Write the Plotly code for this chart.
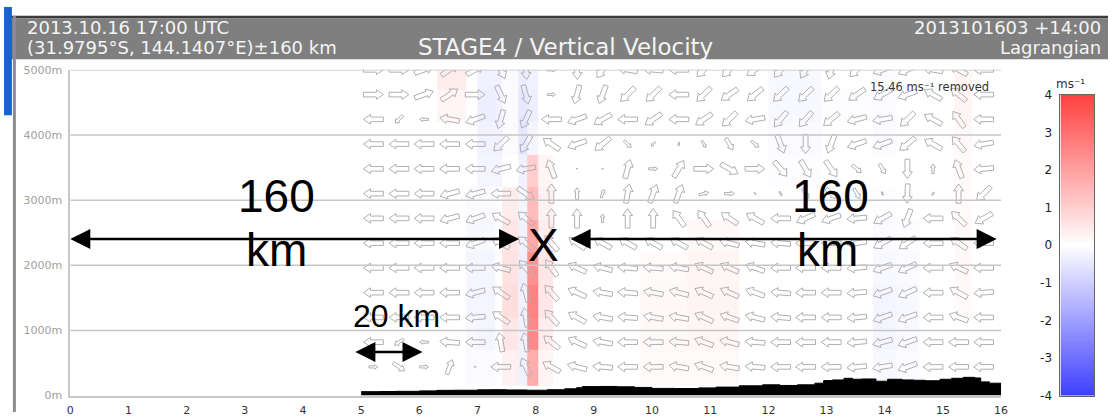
import numpy as np
import plotly.graph_objects as go

W, H = 1115, 419
PX_L, PX_R, PX_T, PX_B = 67, 1007, 65, 402
X_RANGE = [0, 16]
Y_RANGE = [0, 5000]

x_ticks = list(range(0, 17))
y_ticks = [0, 1000, 2000, 3000, 4000, 5000]
y_tick_text = [f"{v}m" for v in y_ticks]

# ---- vertical velocity (m/s) as bricks ----
w_x_edges = [5.0, 6.3, 6.8, 7.0, 7.3, 7.42, 7.7, 7.85, 8.05, 8.3, 9.8, 10.6,
             11.5, 12.0, 12.9, 13.8, 14.2, 14.6, 15.2, 15.5, 16.0]
w_y_edges = [150, 700, 1200, 1700, 2200, 2700, 3200, 3700, 4200, 4700, 5000]
w_values = [
    [0, 0, -0.1, -0.1, 0, 0.3, -0.3, 1.7, 0.2, 0, 0.1, 0.1, 0, 0, 0, -0.15, -0.1, 0, 0, 0],
    [0, 0, -0.15, -0.2, 0, 0.5, -0.3, 2.5, 0.4, 0, 0.15, 0.2, 0, 0, 0, -0.2, -0.15, 0, 0, 0],
    [0, 0, -0.2, -0.2, 0, 0.7, -0.3, 2.6, 0.5, 0, 0.15, 0.25, 0, 0, 0, -0.2, -0.15, 0, 0.1, 0],
    [0, 0, -0.2, -0.2, 0, 0.6, -0.35, 2.3, 0.5, 0, 0.1, 0.2, 0, 0, 0, -0.15, -0.1, 0, 0.15, 0],
    [0, 0, -0.15, -0.15, 0, 0.5, -0.3, 1.8, 0.4, 0, 0, 0.15, 0, 0, 0, -0.1, -0.05, 0, 0.15, 0],
    [0, 0, -0.1, -0.1, 0, 0.4, -0.2, 1.4, 0.3, 0, 0, 0, 0, 0, 0, -0.05, 0, 0, 0.1, 0],
    [0, 0, 0, -0.2, -0.2, 0, -0.3, 1.0, 0.2, 0, 0, 0, 0, -0.05, 0, 0, 0, 0, 0.1, 0],
    [0, 0, 0, -0.3, -0.3, -0.1, -0.5, -0.2, 0, 0, 0, 0, 0, -0.1, 0, -0.1, 0, 0, 0.15, 0],
    [0, 0.2, 0, -0.35, -0.3, -0.1, -0.5, -0.35, 0, 0, 0, 0, 0, -0.15, -0.05, -0.1, 0, 0, 0.2, 0],
    [0, 0.4, 0, -0.3, -0.3, -0.1, -0.4, -0.3, 0, 0, 0, 0, 0, -0.15, 0, -0.1, 0, 0, 0.2, 0],
]

# ---- wind vectors: grid, direction (deg, 0=E, 90=up) and relative magnitude ----
arrow_x = [5.21, 5.65, 6.08, 6.52, 6.96, 7.40, 7.83, 8.27, 8.71, 9.15, 9.58, 10.02,
           10.46, 10.89, 11.33, 11.77, 12.21, 12.64, 13.08, 13.52, 13.96, 14.39,
           14.83, 15.27, 15.70]
arrow_y = [5000, 4620, 4240, 3860, 3480, 3100, 2720, 2340, 1960, 1580, 1200, 820, 440]
arrow_dir = [
    [0, 0, 20, 35, 30, 295, 275, 0, 272, 235, 170, 175, 180, 225, 225, 215, 230, 240, 255, 225, 200, 205, 170, 150, 180],
    [0, 0, 20, 35, 0, 295, 285, 0, 255, 250, 225, 225, 180, 225, 215, 220, 225, 225, 225, 215, 210, 200, 150, 140, 180],
    [180, 225, 180, 170, 200, 255, 245, 180, 200, 210, 180, 215, 180, 215, 225, 190, 230, 230, 220, 195, 190, 225, 150, 125, 180],
    [180, 180, 180, 180, 180, 225, 240, 145, 200, 220, 315, 225, 270, 300, 300, 320, 290, 270, 250, 200, 200, 220, 150, 130, 190],
    [180, 180, 180, 180, 180, 195, 190, 110, 0, 0, 75, 0, 60, 0, 330, 0, 310, 300, 305, 320, 300, 270, 90, 110, 185],
    [180, 180, 180, 195, 195, 180, 325, 90, 90, 70, 80, 70, 70, 15, 0, 300, 300, 300, 315, 300, 290, 268, 60, 90, 225],
    [180, 180, 180, 195, 200, 150, 140, 90, 90, 90, 90, 90, 125, 125, 145, 150, 180, 205, 200, 185, 210, 250, 180, 135, 210],
    [180, 180, 180, 180, 200, 150, 140, 130, 145, 150, 150, 150, 150, 150, 165, 170, 175, 180, 180, 190, 210, 215, 180, 145, 180],
    [180, 180, 180, 180, 180, 165, 130, 125, 155, 165, 175, 175, 170, 155, 155, 160, 180, 180, 180, 185, 200, 205, 180, 155, 180],
    [180, 180, 180, 180, 195, 145, 105, 130, 155, 170, 175, 170, 165, 155, 155, 160, 175, 180, 180, 185, 200, 205, 180, 150, 185],
    [180, 180, 180, 180, 185, 145, 100, 130, 150, 170, 175, 170, 170, 155, 160, 165, 175, 180, 180, 185, 200, 200, 180, 160, 180],
    [180, 215, 180, 175, 180, 100, 100, 140, 155, 170, 180, 180, 175, 160, 165, 175, 180, 180, 180, 185, 195, 200, 180, 180, 180],
    [0, 325, 0, 70, 0, 180, 115, 150, 165, 175, 180, 180, 170, 160, 170, 175, 180, 180, 180, 185, 190, 200, 180, 180, 180],
]
arrow_mag = [
    [1, 1, 1, 1, 1, 1, 1, 0.45, 1, 1, 1, 1, 1, 1, 1, 1, 1, 1, 1, 1, 1, 1, 1, 1, 1],
    [1, 1, 1, 1, 1, 1, 1, 0.4, 1, 1, 1, 1, 1, 1, 1, 1, 1, 1, 1, 1, 1, 1, 1, 1, 1],
    [1, 0.55, 0.45, 1, 1, 1, 1, 1, 1, 1, 1, 1, 1, 1, 1, 1, 1, 1, 1, 1, 1, 1, 1, 1, 1],
    [1, 1, 1, 1, 1, 1, 1, 1, 1, 1, 0.5, 0.3, 0.2, 0.4, 0.7, 0.5, 1, 1, 1, 1, 1, 1, 1, 1, 1],
    [1, 1, 1, 1, 1, 1, 1, 1, 0.08, 0.08, 1, 0.45, 1, 1, 1, 1, 1, 1, 1, 0.6, 0.6, 1, 0.5, 1, 1],
    [1, 1, 1, 1, 1, 1, 1, 1, 0.6, 0.45, 1, 1, 1, 0.5, 0.5, 0.15, 0.25, 0.6, 0.7, 0.6, 0.2, 1, 0.2, 1, 1],
    [1, 1, 1, 1, 1, 1, 1, 1, 1, 0.45, 1, 1, 1, 1, 1, 1, 1, 1, 1, 1, 1, 1, 1, 1, 1],
    [1, 1, 1, 1, 1, 1, 1, 1, 1, 1, 1, 1, 1, 1, 1, 1, 1, 1, 1, 1, 1, 1, 1, 1, 1],
    [1, 1, 1, 1, 1, 1, 1, 1, 1, 1, 1, 1, 1, 1, 1, 1, 1, 1, 1, 1, 1, 1, 1, 1, 1],
    [1, 1, 1, 1, 1, 1, 1, 1, 1, 1, 1, 1, 1, 1, 1, 1, 1, 1, 1, 1, 1, 1, 1, 1, 1],
    [1, 1, 1, 1, 1, 1, 1, 1, 1, 1, 1, 1, 1, 1, 1, 1, 1, 1, 1, 1, 1, 1, 1, 1, 1],
    [1, 0.55, 0.45, 1, 1, 1, 1, 1, 1, 1, 1, 1, 1, 1, 1, 1, 1, 1, 1, 1, 1, 1, 1, 1, 1],
    [0.45, 0.7, 0.45, 0.8, 0.1, 1, 1, 1, 1, 1, 1, 1, 1, 1, 1, 1, 1, 1, 1, 1, 1, 1, 1, 1, 1],
]

# ---- terrain ----
terrain_x = [5.0, 5.3, 5.6, 6.0, 6.3, 6.6, 7.0, 7.2, 7.5, 7.85, 8.2, 8.5, 8.7, 8.8, 9.1,
             9.4, 9.7, 10.0, 10.4, 10.8, 11.1, 11.5, 11.9, 12.2, 12.5, 12.8, 12.95,
             13.1, 13.3, 13.45, 13.6, 13.85, 14.05, 14.3, 14.5, 14.7, 14.95, 15.15,
             15.35, 15.55, 15.65, 15.8, 16.0]
terrain_h = [60, 62, 65, 72, 80, 82, 88, 90, 86, 82, 90, 104, 120, 138, 140, 135, 125,
             110, 108, 118, 130, 150, 165, 155, 165, 190, 230, 240, 265, 250, 255, 220,
             250, 240, 235, 228, 250, 265, 280, 270, 210, 190, 180]

cb_ticks = [-4, -3, -2, -1, 0, 1, 2, 3, 4]
cb_tick_text = [str(v) for v in cb_ticks]
colorscale = [[0, "rgb(64,64,255)"], [0.5, "rgb(255,255,255)"], [1, "rgb(255,64,64)"]]

# ---------------------------------------------------------------
px_per_x = (PX_R - PX_L) / (X_RANGE[1] - X_RANGE[0])
px_per_y = (PX_B - PX_T) / (Y_RANGE[1] - Y_RANGE[0])

shape_u = np.array([-10, 3, 3, 10, 3, 3, -10, -10], dtype=float)
shape_v = np.array([-2.4, -2.4, -5, 0, 5, 2.4, 2.4, -2.4])

ax_pts, ay_pts = [], []
for j, yy in enumerate(arrow_y):
    for i, xx in enumerate(arrow_x):
        a = np.deg2rad(arrow_dir[j][i])
        m = arrow_mag[j][i]
        u = shape_u * m
        v = shape_v * m
        rx = u * np.cos(a) - v * np.sin(a)
        ry = u * np.sin(a) + v * np.cos(a)
        ax_pts += list(xx + rx / px_per_x) + [None]
        ay_pts += list(yy + ry / px_per_y) + [None]

fig = go.Figure()
fig.add_trace(go.Heatmap(x=w_x_edges, y=w_y_edges, z=w_values, colorscale=colorscale,
                         zmin=-4, zmax=4, showscale=False, hoverinfo="skip"))
fig.add_trace(go.Scatter(x=ax_pts, y=ay_pts, mode="lines",
                         line=dict(color="#b0b0b0", width=1), hoverinfo="skip",
                         showlegend=False))
fig.add_trace(go.Scatter(x=terrain_x, y=terrain_h, mode="lines", fill="tozeroy",
                         fillcolor="black", line=dict(color="black", width=1, shape="hv"),
                         hoverinfo="skip", showlegend=False))

# colorbar as its own small axis
levels = np.linspace(-4, 4, 161)
fig.add_trace(go.Heatmap(x=[0], y=levels, z=[[v] for v in levels], colorscale=colorscale,
                         zmin=-4, zmax=4, showscale=False, xaxis="x2", yaxis="y2",
                         hoverinfo="skip"))

dom_x = [PX_L / W, PX_R / W]
dom_y = [1 - PX_B / H, 1 - PX_T / H]
tick_font = dict(family="DejaVu Sans", size=11)

fig.update_layout(
    width=W, height=H, margin=dict(l=0, r=0, t=0, b=0),
    paper_bgcolor="white", plot_bgcolor="white", showlegend=False,
    xaxis=dict(domain=dom_x, range=X_RANGE, tickvals=x_ticks, showgrid=False,
               zeroline=False, showline=True, linecolor="#c8c8c8", linewidth=2,
               ticks="", tickfont=dict(tick_font, color="#333333"),
               ticklabelstandoff=3, fixedrange=True),
    yaxis=dict(domain=dom_y, range=Y_RANGE, tickvals=y_ticks, ticktext=y_tick_text,
               showgrid=False, zeroline=False, showline=True, linecolor="#c8c8c8",
               linewidth=2, ticks="", tickfont=dict(tick_font, color="#a0a0a0"),
               ticklabelstandoff=4, fixedrange=True),
    xaxis2=dict(domain=[1067 / W, 1101 / W], anchor="y2", range=[-0.5, 0.5],
                showticklabels=False, showgrid=False, zeroline=False, ticks="",
                showline=True, mirror=True, linecolor="#666666", linewidth=1),
    yaxis2=dict(domain=[1 - 402 / H, 1 - 91 / H], anchor="x2", range=[-4, 4],
                tickvals=cb_ticks, ticktext=cb_tick_text, side="left", showgrid=False,
                zeroline=False, ticks="", showline=True, mirror=True,
                linecolor="#666666", linewidth=1,
                tickfont=dict(family="DejaVu Sans", size=12, color="#222222"),
                ticklabelstandoff=5),
)

shapes = [
    dict(type="rect", xref="paper", yref="paper", x0=0, x1=1, y0=1 - 12 / H, y1=1 - 9 / H,
         fillcolor="#3c3c3c", line_width=0, layer="above"),
    dict(type="rect", xref="paper", yref="paper", x0=0, x1=1, y0=1 - 54 / H, y1=1 - 12 / H,
         fillcolor="#7f7f7f", line_width=0, layer="above"),
    dict(type="rect", xref="paper", yref="paper", x0=9 / W, x1=12 / W, y0=0, y1=1 - 9 / H,
         fillcolor="#8c8c8c", line_width=0, layer="above"),
    dict(type="rect", xref="paper", yref="paper", x0=0, x1=8 / W, y0=1 - 112 / H, y1=1,
         fillcolor="#1565c8", line_width=0, layer="above"),
]
for yv in y_ticks[1:]:
    shapes.append(dict(type="line", xref="x", yref="y", x0=X_RANGE[0], x1=X_RANGE[1],
                       y0=yv, y1=yv, line=dict(color="#c6c6c6", width=1.5), layer="above"))
fig.update_layout(shapes=shapes)

hdr = dict(family="DejaVu Sans", size=18, color="#f4f4f4")
big = dict(family="Liberation Sans", size=46, color="black")
ann = [
    dict(text="2013.10.16 17:00 UTC", x=21 / W, y=1 - 21 / H, xanchor="left", yanchor="middle", font=hdr),
    dict(text="(31.9795°S, 144.1407°E)±160 km", x=21 / W, y=1 - 42 / H, xanchor="left", yanchor="middle", font=hdr),
    dict(text="STAGE4 / Vertical Velocity", x=567 / W, y=1 - 41 / H, xanchor="center", yanchor="middle",
         font=dict(family="DejaVu Sans", size=23, color="#f4f4f4")),
    dict(text="2013101603 +14:00", x=1110 / W, y=1 - 21 / H, xanchor="right", yanchor="middle", font=hdr),
    dict(text="Lagrangian", x=1110 / W, y=1 - 42 / H, xanchor="right", yanchor="middle", font=hdr),
    dict(text="ms⁻¹", x=1077 / W, y=1 - 80 / H, xanchor="center", yanchor="middle",
         font=dict(family="DejaVu Sans", size=12, color="#333333")),
]
for a in ann:
    a.update(xref="paper", yref="paper", showarrow=False)

data_ann = [
    dict(text="160", x=3.55, y=3060, font=big),
    dict(text="km", x=3.54, y=2230, font=big),
    dict(text="160", x=13.06, y=3060, font=big),
    dict(text="km", x=13.01, y=2230, font=big),
    dict(text="X", x=8.14, y=2305, font=big),
    dict(text="20 km", x=5.6, y=1217, font=dict(family="Liberation Sans", size=32, color="black")),
    dict(text="15.46 ms⁻¹ removed", x=15.83, y=4744, xanchor="right",
         font=dict(family="DejaVu Sans", size=11.5, color="#333333")),
]
for a in data_ann:
    a.setdefault("xanchor", "center")
    a.update(xref="x", yref="y", yanchor="middle", showarrow=False)

arrow_style = dict(xref="x", yref="y", axref="x", ayref="y", text="", showarrow=True,
                   arrowhead=2, arrowside="end+start", arrowwidth=2.5, arrowsize=1.6,
                   arrowcolor="black")
span_arrows = [
    dict(x=0.0, y=2404, ax=7.74, ay=2404),
    dict(x=8.6, y=2404, ax=15.95, ay=2404),
    dict(x=4.9, y=668, ax=6.08, ay=668),
]
for a in span_arrows:
    a.update(arrow_style)

fig.update_layout(annotations=ann + data_ann + span_arrows)
fig.write_html("out.html")
